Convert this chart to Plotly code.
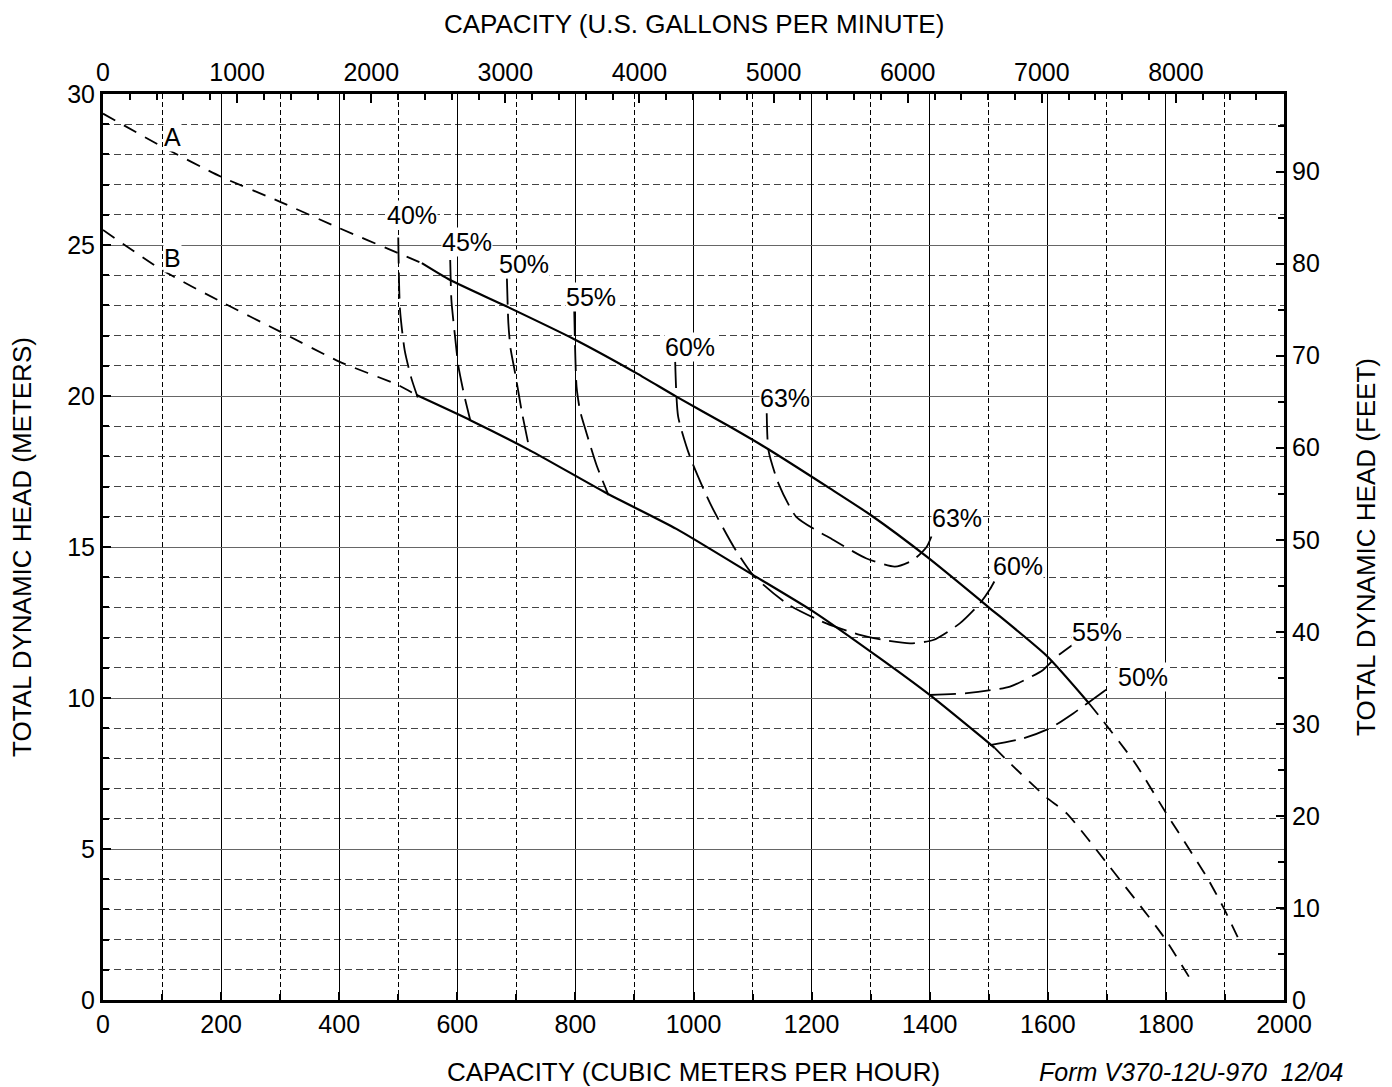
import plotly.graph_objects as go

# ---------------- data ----------------
# Impeller A head curve (m3/h, m)
A_dash_left_x = [0, 100, 200, 300, 400, 500, 540]
A_dash_left_y = [29.35, 28.26, 27.26, 26.43, 25.56, 24.73, 24.40]
A_solid_x = [540, 588, 684, 798, 904, 971, 1062, 1124, 1231, 1300, 1395, 1499, 1598, 1670]
A_solid_y = [24.40, 23.84, 22.96, 21.88, 20.75, 19.98, 18.98, 18.27, 16.94, 16.06, 14.68, 13.02, 11.40, 9.82]
A_dash_right_x = [1670, 1688, 1748, 1800, 1869, 1898, 1929]
A_dash_right_y = [9.82, 9.38, 7.84, 6.20, 4.08, 3.04, 1.77]

# Impeller B head curve
B_dash_left_x = [0, 100, 200, 300, 400, 500, 531]
B_dash_left_y = [25.50, 24.17, 23.12, 22.13, 21.14, 20.36, 20.03]
B_solid_x = [531, 622, 723, 853, 971, 1101, 1203, 1316, 1400, 1510]
B_solid_y = [20.03, 19.20, 18.20, 16.78, 15.60, 14.07, 12.86, 11.31, 10.10, 8.35]
B_dash_right_x = [1510, 1536, 1598, 1632, 1700, 1796, 1844]
B_dash_right_y = [8.35, 7.84, 6.70, 6.18, 4.53, 2.10, 0.61]

# Efficiency curves
E40_x = [500, 503, 511, 522, 533]
E40_y = [25.25, 22.85, 21.50, 20.60, 19.95]
E45_x = [588, 590, 596, 602, 612, 622]
E45_y = [24.50, 23.18, 22.00, 20.97, 20.00, 19.20]
E50_x = [684, 686.5, 690, 698, 710, 723]
E50_y = [23.90, 22.40, 21.60, 20.75, 19.40, 18.16]
E55_x = [798, 802, 808, 819, 836, 856]
E55_y = [22.85, 20.30, 19.50, 18.76, 17.70, 16.72]
E60_x = [969, 974, 994, 1028, 1068, 1101, 1160, 1225, 1280, 1322, 1367, 1406, 1451, 1485, 1502, 1512]
E60_y = [21.13, 19.32, 17.99, 16.45, 15.01, 14.07, 13.10, 12.47, 12.10, 11.92, 11.81, 11.92, 12.47, 13.13, 13.60, 13.95]
E63_x = [1124, 1127, 1144, 1174, 1237, 1293, 1341, 1372, 1395, 1406]
E63_y = [19.43, 18.20, 17.10, 16.00, 15.23, 14.62, 14.35, 14.57, 15.01, 15.50]
E55b_x = [1400, 1463, 1536, 1592, 1615, 1641]
E55b_y = [10.10, 10.16, 10.38, 10.93, 11.37, 11.75]
E50b_x = [1502, 1558, 1604, 1643, 1694, 1702]
E50b_y = [8.44, 8.66, 9.00, 9.49, 10.21, 10.32]

eff_label_text = ["40%", "45%", "50%", "55%", "60%", "63%", "63%", "60%", "55%", "50%"]
eff_label_x = [523, 616, 713, 826, 994, 1155, 1446, 1549, 1683, 1761]
eff_label_y = [26.0, 25.1, 24.37, 23.28, 21.62, 19.93, 15.96, 14.37, 12.19, 10.7]

curve_label_text = ["A", "B"]
curve_label_x = [117, 117]
curve_label_y = [28.58, 24.57]

X_MAX = 2000           # m3/h
Y_MAX = 30             # m
GPM_PER_M3H = 4.402868
FT_PER_M = 1 / 0.3048

FONT = "Liberation Sans, Arial, sans-serif"
FS = 25

fig = go.Figure()

def add(x, y, dash, width):
    fig.add_trace(go.Scatter(x=x, y=y, mode="lines", line=dict(color="black", width=width, dash=dash,
                                                               shape="spline", smoothing=0.6),
                             hoverinfo="skip", showlegend=False))

head_dash = "14px,10px"
for x, y in [(A_dash_left_x, A_dash_left_y), (A_dash_right_x, A_dash_right_y),
             (B_dash_left_x, B_dash_left_y), (B_dash_right_x, B_dash_right_y)]:
    add(x, y, head_dash, 1.8)
for x, y in [(A_solid_x, A_solid_y), (B_solid_x, B_solid_y)]:
    add(x, y, "solid", 2.2)

eff_dash = "26px,9px"
for x, y in [(E40_x, E40_y), (E45_x, E45_y), (E50_x, E50_y), (E55_x, E55_y), (E60_x, E60_y),
             (E63_x, E63_y), (E55b_x, E55b_y), (E50b_x, E50b_y)]:
    add(x, y, eff_dash, 1.8)

# empty trace on secondary axes so they render
fig.add_trace(go.Scatter(x=[None], y=[None], xaxis="x2", yaxis="y2", showlegend=False, hoverinfo="skip"))

annotations = []
for t, x, y in zip(eff_label_text, eff_label_x, eff_label_y):
    annotations.append(dict(x=x, y=y, xref="x", yref="y", text=t, showarrow=False,
                            font=dict(family=FONT, size=FS, color="black"),
                            bgcolor="white", borderpad=0))
for t, x, y in zip(curve_label_text, curve_label_x, curve_label_y):
    annotations.append(dict(x=x, y=y, xref="x", yref="y", text=t, showarrow=False,
                            font=dict(family=FONT, size=FS, color="black"),
                            bgcolor="white", borderpad=0))

title_font = dict(family=FONT, size=26, color="black")
annotations += [
    dict(x=0.5, y=1, xref="paper", yref="paper", yshift=70, xanchor="center", yanchor="middle",
         text="CAPACITY (U.S. GALLONS PER MINUTE)", showarrow=False, font=title_font),
    dict(x=0.5, y=0, xref="paper", yref="paper", yshift=-72, xanchor="center", yanchor="middle",
         text="CAPACITY (CUBIC METERS PER HOUR)", showarrow=False, font=title_font),
    dict(x=1, y=0, xref="paper", yref="paper", xshift=-93, yshift=-72, xanchor="center", yanchor="middle",
         text="<i>Form V370-12U-970  12/04</i>",
         showarrow=False, font=dict(family=FONT, size=25, color="black")),
    dict(x=0, y=0.5, xref="paper", yref="paper", xshift=-81, xanchor="center", yanchor="middle",
         text="TOTAL DYNAMIC HEAD (METERS)", textangle=-90, showarrow=False, font=title_font),
    dict(x=1, y=0.5, xref="paper", yref="paper", xshift=82, xanchor="center", yanchor="middle",
         text="TOTAL DYNAMIC HEAD (FEET)", textangle=-90, showarrow=False, font=title_font),
]

tickfont = dict(family=FONT, size=FS, color="black")

fig.update_layout(
    width=1384, height=1079,
    margin=dict(l=95, r=108, t=86, b=87, pad=0),
    paper_bgcolor="white", plot_bgcolor="white",
    showlegend=False,
    annotations=annotations,
    xaxis=dict(range=[0, X_MAX], dtick=200, tick0=0, showgrid=True, gridcolor="black", gridwidth=1,
               ticks="inside", ticklen=8, tickwidth=2, tickcolor="black",
               showline=True, linecolor="black", linewidth=3, mirror=False,
               tickfont=tickfont, zeroline=False,
               minor=dict(dtick=100, showgrid=True, gridcolor="black", gridwidth=1, griddash="5px,3px",
                          ticks="inside", ticklen=6, tickcolor="black", tickwidth=1.5)),
    yaxis=dict(range=[0, Y_MAX], dtick=5, tick0=0, showgrid=True, gridcolor="#666666", gridwidth=1.4,
               ticks="inside", ticklen=8, tickwidth=2, tickcolor="black",
               showline=True, linecolor="black", linewidth=3, mirror=False,
               tickfont=tickfont, zeroline=False,
               minor=dict(dtick=1, showgrid=True, gridcolor="#444444", gridwidth=1.4, griddash="7px,4px",
                          ticks="inside", ticklen=6, tickcolor="black", tickwidth=1.5)),
    xaxis2=dict(range=[0, X_MAX * GPM_PER_M3H], dtick=1000, tick0=0, overlaying="x", side="top",
                anchor="y", showgrid=False, ticks="inside", ticklen=9, tickwidth=2, tickcolor="black",
                showline=True, linecolor="black", linewidth=3, tickfont=tickfont, zeroline=False,
                minor=dict(dtick=200, ticks="inside", ticklen=6, tickcolor="black", tickwidth=1.5)),
    yaxis2=dict(range=[0, Y_MAX * FT_PER_M], dtick=10, tick0=0, overlaying="y", side="right",
                anchor="x", showgrid=False, ticks="inside", ticklen=8, tickwidth=2, tickcolor="black",
                showline=True, linecolor="black", linewidth=3, tickfont=tickfont, zeroline=False,
                minor=dict(dtick=5, ticks="inside", ticklen=6, tickcolor="black", tickwidth=1.5)),
)

fig.write_html("out.html")
